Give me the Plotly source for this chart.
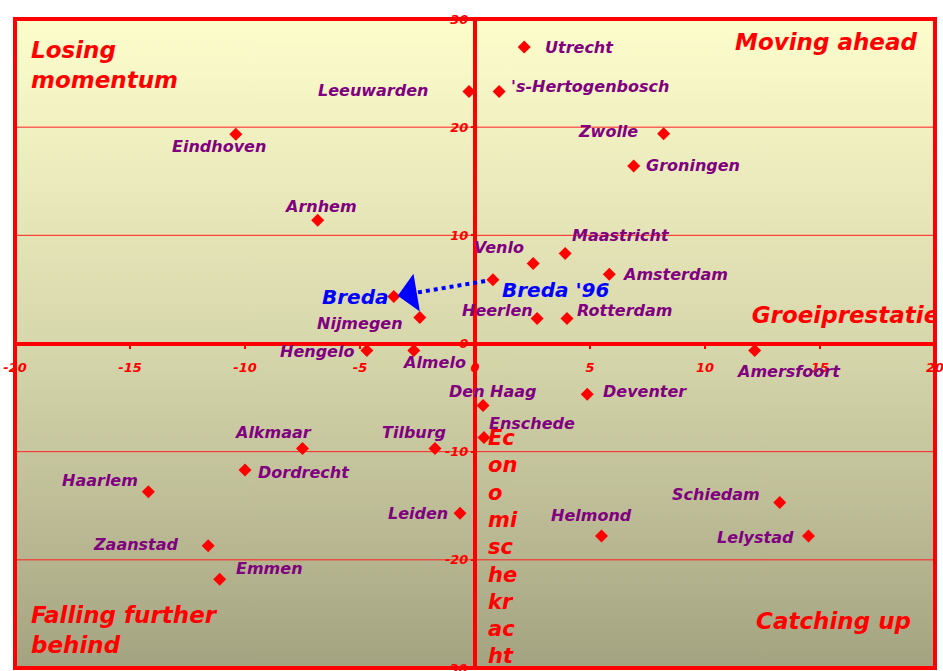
import base64
import plotly.graph_objects as go

# ---------------- data ----------------
cities = ["Utrecht", "'s-Hertogenbosch", "Leeuwarden", "Zwolle", "Eindhoven",
          "Groningen", "Arnhem", "Maastricht", "Venlo", "Amsterdam", "Nijmegen",
          "Heerlen", "Rotterdam", "Hengelo", "Almelo", "Amersfoort", "Den Haag",
          "Deventer", "Enschede", "Alkmaar", "Tilburg", "Dordrecht", "Haarlem",
          "Leiden", "Schiedam", "Helmond", "Lelystad", "Zaanstad", "Emmen"]
groeiprestaties = [2.14, 1.05, -0.26, 8.2, -10.4,
                   6.9, -6.84, 3.92, 2.53, 5.84, -2.4,
                   2.7, 4.0, -4.7, -2.66, 12.16, 0.35,
                   4.88, 0.39, -7.5, -1.74, -10.0, -14.2,
                   -0.65, 13.25, 5.5, 14.5, -11.6, -11.1]
economische_kracht = [27.4, 23.3, 23.3, 19.4, 19.35,
                      16.4, 11.4, 8.33, 7.4, 6.4, 2.4,
                      2.3, 2.3, -0.65, -0.65, -0.65, -5.74,
                      -4.7, -8.7, -9.7, -9.7, -11.7, -13.7,
                      -15.7, -14.7, -17.8, -17.8, -18.7, -21.8]

breda_names = ["Breda '96", "Breda"]
breda_groei = [0.78, -3.53]
breda_kracht = [5.9, 4.35]

x_ticks = [-20, -15, -10, -5, 0, 5, 10, 15, 20]
y_ticks = [-30, -20, -10, 0, 10, 20, 30]
x_range = [-20, 20]
y_range = [-30, 30]

quadrants = ["Losing<br>momentum", "Moving ahead", "Falling further<br>behind", "Catching up"]
x_title = "Groeiprestaties"
y_title_fragments = ["Ec", "on", "o", "mi", "sc", "he", "kr", "ac", "ht"]

# ---------------- styling ----------------
RED = "#FF0000"
PURPLE = "#800080"
BLUE = "#0000FF"
FAM = "DejaVu Sans"

# label placement: (xanchor, xshift px, yshift px)
placement = {
    "Utrecht": ("left", 20, 0), "'s-Hertogenbosch": ("left", 11, 5),
    "Leeuwarden": ("right", -40, 1), "Zwolle": ("right", -25, 2),
    "Eindhoven": ("center", -17, -12), "Groningen": ("left", 11, 1),
    "Arnhem": ("center", 3, 14), "Maastricht": ("left", 6, 18),
    "Venlo": ("right", -8, 16), "Amsterdam": ("left", 12, 0),
    "Nijmegen": ("right", -16, -6), "Heerlen": ("right", -3, 8),
    "Rotterdam": ("left", 9, 8), "Hengelo": ("right", -12, -1),
    "Almelo": ("left", -13, -12), "Amersfoort": ("left", -20, -21),
    "Den Haag": ("left", -35, 14), "Deventer": ("left", 15, 3),
    "Enschede": ("left", 4, 14), "Alkmaar": ("right", 10, 16),
    "Tilburg": ("right", 12, 16), "Dordrecht": ("left", 12, -2),
    "Haarlem": ("right", -9, 11), "Leiden": ("right", -11, 0),
    "Schiedam": ("right", -19, 8), "Helmond": ("left", -52, 21),
    "Lelystad": ("right", -14, -1), "Zaanstad": ("right", -28, 1),
    "Emmen": ("left", 15, 11),
    "Breda '96": ("left", 8, -10), "Breda": ("right", -5, -1),
}

fig = go.Figure()

# gradient background (SVG image stretched over the plot area)
svg = ('<svg xmlns="http://www.w3.org/2000/svg" width="100" height="100" '
       'viewBox="0 0 100 100" preserveAspectRatio="none">'
       '<defs><linearGradient id="g" x1="0" y1="0" x2="0" y2="1">'
       '<stop offset="0" stop-color="#FDFDCC"/>'
       '<stop offset="0.5" stop-color="#D7D7AC"/>'
       '<stop offset="1" stop-color="#A4A381"/>'
       '</linearGradient></defs>'
       '<rect x="0" y="0" width="100" height="100" fill="url(#g)"/></svg>')
fig.add_layout_image(
    source="data:image/svg+xml;base64," + base64.b64encode(svg.encode()).decode(),
    xref="paper", yref="paper", x=0, y=1, sizex=1, sizey=1,
    xanchor="left", yanchor="top", sizing="stretch", layer="below")

# horizontal grid lines (thin red) at the y ticks
for v in y_ticks:
    if v not in (0, y_range[0], y_range[1]):
        fig.add_shape(type="line", xref="paper", yref="y", x0=0, x1=1, y0=v, y1=v,
                      line=dict(color="#FF2020", width=1), layer="below")

# blue dotted line Breda '96 -> Breda
fig.add_trace(go.Scatter(
    x=breda_groei, y=breda_kracht, mode="lines",
    line=dict(color=BLUE, width=4, dash="dot"),
    hoverinfo="skip", showlegend=False))

# markers
fig.add_trace(go.Scatter(
    x=groeiprestaties + breda_groei, y=economische_kracht + breda_kracht,
    mode="markers", marker=dict(symbol="diamond", size=10, color=RED),
    hoverinfo="skip", showlegend=False))

# arrowhead at Breda (tail placed a little way back along the dotted line)
tail_x = breda_groei[1] + 0.14 * (breda_groei[0] - breda_groei[1])
tail_y = breda_kracht[1] + 0.14 * (breda_kracht[0] - breda_kracht[1])
fig.add_annotation(x=breda_groei[1], y=breda_kracht[1], ax=tail_x, ay=tail_y,
                   axref="x", ayref="y", text="", showarrow=True, arrowhead=1,
                   arrowsize=1.6, arrowwidth=4, arrowcolor=BLUE, standoff=4)

# x-axis title, clipped at the plot border
fig.add_trace(go.Scatter(
    x=[12.03], y=[2.42], mode="text", text=[x_title], textposition="middle right",
    textfont=dict(family=FAM, size=23, color=RED, weight="bold", style="italic"),
    cliponaxis=True, hoverinfo="skip", showlegend=False))

# city labels
for name, x, y in zip(cities + breda_names, groeiprestaties + breda_groei,
                      economische_kracht + breda_kracht):
    a, dx, dy = placement[name]
    is_breda = name in breda_names
    fig.add_annotation(
        x=x, y=y, text=name, showarrow=False, xanchor=a, yanchor="middle",
        xshift=dx, yshift=dy, borderpad=0,
        font=dict(family=FAM, size=20 if is_breda else 16,
                  color=BLUE if is_breda else PURPLE,
                  weight="bold", style="italic"))

tickfont = dict(family=FAM, size=13, color=RED, weight="bold", style="italic")

# end tick labels that fall at the page edge (hidden by plotly otherwise)
fig.add_annotation(x=x_ticks[-1], y=0, text=str(x_ticks[-1]), showarrow=False,
                   xanchor="center", yanchor="top", yshift=-15, borderpad=0,
                   font=tickfont)
fig.add_annotation(x=0, y=y_ticks[0], text=str(y_ticks[0]), showarrow=False,
                   xanchor="right", yanchor="middle", xshift=-6, borderpad=0,
                   font=tickfont)

# quadrant labels
qfont = dict(family=FAM, size=23, color=RED, weight="bold", style="italic")
fig.add_annotation(xref="paper", yref="paper", x=0.0163, y=0.929, text=quadrants[0],
                   showarrow=False, xanchor="left", yanchor="middle", align="left",
                   font=qfont, borderpad=0)
fig.add_annotation(xref="paper", yref="paper", x=0.9815, y=0.9646, text=quadrants[1],
                   showarrow=False, xanchor="right", yanchor="middle", font=qfont,
                   borderpad=0)
fig.add_annotation(xref="paper", yref="paper", x=0.0163, y=0.0586, text=quadrants[2],
                   showarrow=False, xanchor="left", yanchor="middle", align="left",
                   font=qfont, borderpad=0)
fig.add_annotation(xref="paper", yref="paper", x=0.975, y=0.0724, text=quadrants[3],
                   showarrow=False, xanchor="right", yanchor="middle", font=qfont,
                   borderpad=0)

# y-axis title, broken into fragments like the original
fig.add_annotation(xref="paper", yref="paper", x=0.513, y=0.1857,
                   text="<br>".join(y_title_fragments), showarrow=False, xanchor="left",
                   yanchor="middle", align="left", borderpad=0,
                   font=dict(family=FAM, size=21, color=RED, weight="bold", style="italic"))

# plot border
fig.add_shape(type="rect", xref="paper", yref="paper", x0=0, x1=1, y0=0, y1=1,
              line=dict(color=RED, width=4), layer="above")

fig.update_layout(
    width=943, height=671,
    margin=dict(l=15, r=8, t=19, b=3),
    paper_bgcolor="white", plot_bgcolor="white",
    showlegend=False,
    xaxis=dict(range=x_range, tickvals=x_ticks, ticktext=[str(v) for v in x_ticks],
               showgrid=False, zeroline=True, zerolinecolor=RED, zerolinewidth=4,
               showline=False, ticks="outside", ticklen=4, tickwidth=2, tickcolor=RED,
               tickfont=tickfont, anchor="free", position=0.5, fixedrange=True,
               ticklabelstandoff=8, automargin=False),
    yaxis=dict(range=y_range, tickvals=y_ticks, ticktext=[str(v) for v in y_ticks],
               showgrid=False,
               zeroline=True, zerolinecolor=RED, zerolinewidth=4,
               showline=False, ticks="outside", ticklen=4, tickwidth=2, tickcolor=RED,
               tickfont=tickfont, anchor="free", position=0.5, fixedrange=True,
               automargin=False),
)

fig.write_html("out.html", config={"displayModeBar": False},
               post_script="document.body.style.margin='0';")
